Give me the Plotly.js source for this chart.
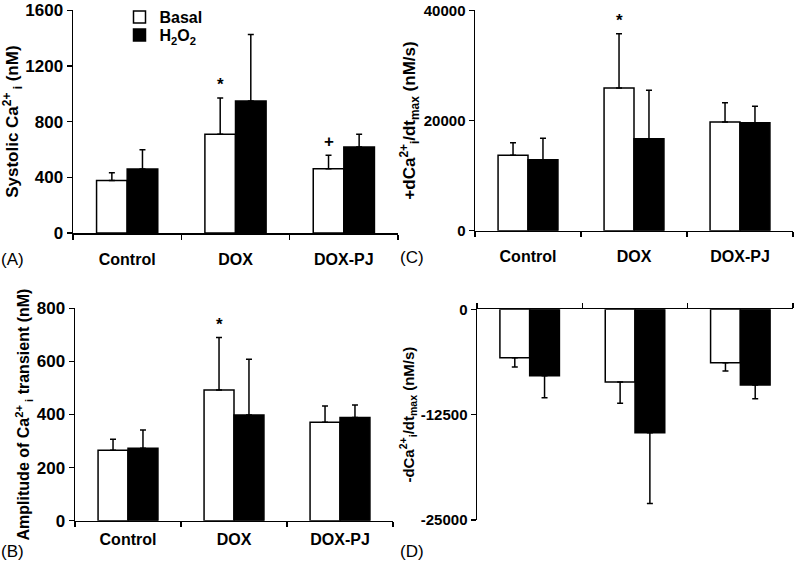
<!DOCTYPE html>
<html>
<head>
<meta charset="utf-8">
<script src="https://cdn.plot.ly/plotly-3.0.1.min.js"></script>
<style>
  html, body { margin: 0; padding: 0; background: #fff; }
  #chart { width: 800px; height: 564px; }
</style>
</head>
<body>
<div id="chart"></div>
<script>
// ---------- data ----------
const groups = ['Control', 'DOX', 'DOX-PJ'];

// (A) Systolic Ca2+ (nM)
const sysBasal = [378, 709, 462];
const sysBasalErr = [55, 261, 96];
const sysH2O2 = [460, 948, 618];
const sysH2O2Err = [139, 479, 91];
const sysMarks = ['', '*', '+'];

// (B) Amplitude of Ca2+ transient (nM)
const ampBasal = [265, 492, 371];
const ampBasalErr = [42, 198, 61];
const ampH2O2 = [273, 398, 389];
const ampH2O2Err = [69, 210, 47];
const ampMarks = ['', '*', ''];

// (C) +dCa/dt max (nM/s)
const upBasal = [13680, 25900, 19730];
const upBasalErr = [2300, 9860, 3510];
const upH2O2 = [12890, 16700, 19610];
const upH2O2Err = [3870, 8770, 2970];
const upMarks = ['', '*', ''];

// (D) -dCa/dt max (nM/s)
const downBasal = [-5740, -8620, -6330];
const downBasalErr = [1110, 2530, 990];
const downH2O2 = [-7870, -14640, -8980];
const downH2O2Err = [2610, 8390, 1620];

const dTickVals = [0, -12500, -25000];
const dTickText = ['0', '-12500', '-25000'];

// ---------- style ----------
const FONT = 'Liberation Sans, Arial, Helvetica, sans-serif';
const BARGAP = 0.435;
const lineStyle = { color: '#000', width: 1.5 };

function errUp(arr) {
  return { type: 'data', symmetric: false, array: arr, arrayminus: arr.map(() => 0),
           color: '#000', thickness: 1.5, width: 3 };
}
function errDown(arr) {
  return { type: 'data', symmetric: false, array: arr.map(() => 0), arrayminus: arr,
           color: '#000', thickness: 1.5, width: 3 };
}
function barTrace(y, err, fill, name, xa, ya, legendName, down) {
  const t = {
    type: 'bar', x: groups, y: y, name: name,
    xaxis: xa, yaxis: ya, showlegend: !!legendName,
    marker: { color: fill, line: lineStyle },
    error_y: down ? errDown(err) : errUp(err),
    hoverinfo: 'skip'
  };
  if (legendName) t.legend = legendName;
  return t;
}

const traces = [
  barTrace(sysBasal, sysBasalErr, '#fff', 'Basal', 'x', 'y', 'legend'),
  barTrace(sysH2O2, sysH2O2Err, '#000', 'H<sub>2</sub>O<sub>2</sub>', 'x', 'y', 'legend2'),
  barTrace(upBasal, upBasalErr, '#fff', 'Basal', 'x2', 'y2'),
  barTrace(upH2O2, upH2O2Err, '#000', 'H2O2', 'x2', 'y2'),
  barTrace(ampBasal, ampBasalErr, '#fff', 'Basal', 'x3', 'y3'),
  barTrace(ampH2O2, ampH2O2Err, '#000', 'H2O2', 'x3', 'y3'),
  barTrace(downBasal, downBasalErr, '#fff', 'Basal', 'x4', 'y4', null, true),
  barTrace(downH2O2, downH2O2Err, '#000', 'H2O2', 'x4', 'y4', null, true)
];

function xAxis(domain, anchor, opts) {
  return Object.assign({
    domain: domain, anchor: anchor, type: 'category', range: [-0.5, 2.5],
    tickson: 'boundaries', ticks: 'outside', ticklen: 5, tickwidth: 1.5, tickcolor: '#000',
    showline: true, linecolor: '#000', linewidth: 1.5, showgrid: false, zeroline: false,
    tickfont: { family: FONT, size: 16, color: '#000', weight: 'bold' },
    ticklabelstandoff: 11, fixedrange: true
  }, opts || {});
}
function yAxis(domain, anchor, range, dtick, title, tickSize, titleSize, opts) {
  return Object.assign({
    domain: domain, anchor: anchor, range: range, dtick: dtick, tickformat: 'd',
    ticks: 'outside', ticklen: 5, tickwidth: 1.5, tickcolor: '#000',
    showline: true, linecolor: '#000', linewidth: 1.5, showgrid: false, zeroline: false,
    tickfont: { family: FONT, size: tickSize, color: '#000', weight: 'bold' },
    title: { text: title, font: { family: FONT, size: titleSize, color: '#000', weight: 'bold' } },
    fixedrange: true
  }, opts || {});
}

// significance markers placed above the basal error bar tops
const halfBar = (1 - BARGAP) / 4;
function marks(list, vals, errs, xa, ya) {
  const out = [];
  list.forEach((t, i) => {
    if (!t) return;
    out.push({
      xref: xa, yref: ya, x: i - halfBar, y: vals[i] + errs[i],
      text: t, showarrow: false, yanchor: 'bottom', yshift: 2,
      font: { family: FONT, size: 17, color: '#000', weight: 'bold' }
    });
  });
  return out;
}
const panelLabel = (t, x, y) => ({
  xref: 'paper', yref: 'paper', x: x, y: y, text: t, showarrow: false,
  xanchor: 'center', yanchor: 'middle',
  font: { family: FONT, size: 17, color: '#000' }
});

const annotations = [].concat(
  marks(sysMarks, sysBasal, sysBasalErr, 'x', 'y'),
  marks(ampMarks, ampBasal, ampBasalErr, 'x3', 'y3'),
  marks(upMarks, upBasal, upBasalErr, 'x2', 'y2'),
  [
    panelLabel('(A)', 12 / 800, 1 - 259 / 564),
    panelLabel('(C)', 412 / 800, 1 - 258 / 564),
    panelLabel('(B)', 12 / 800, 1 - 551 / 564),
    panelLabel('(D)', 412 / 800, 1 - 551 / 564)
  ]
);

const legendFont = { family: FONT, size: 16, color: '#000', weight: 'bold' };
const layout = {
  width: 800, height: 564,
  margin: { l: 0, r: 0, t: 0, b: 0 },
  paper_bgcolor: '#fff', plot_bgcolor: 'rgba(0,0,0,0)',
  font: { family: FONT, color: '#000' },
  barmode: 'group', bargap: BARGAP, bargroupgap: 0,
  showlegend: true,
  legend: {
    x: 119.5 / 800, y: 1, xanchor: 'left', yanchor: 'top',
    bgcolor: 'rgba(0,0,0,0)', borderwidth: 0, itemwidth: 30, font: legendFont
  },
  legend2: {
    x: 119.5 / 800, y: 1 - 18 / 564, xanchor: 'left', yanchor: 'top',
    bgcolor: 'rgba(0,0,0,0)', borderwidth: 0, itemwidth: 30, font: legendFont
  },
  xaxis: xAxis([73 / 800, 398 / 800], 'y'),
  yaxis: yAxis([1 - 233 / 564, 1 - 10.3 / 564], 'x', [0, 1600], 400,
    'Systolic Ca<sup>2+</sup><sub> i</sub> (nM)', 17, 17),
  xaxis2: xAxis([475 / 800, 793 / 800], 'y2'),
  yaxis2: yAxis([1 - 230.7 / 564, 1 - 10.3 / 564], 'x2', [0, 40000], 20000,
    '+dCa<sup>2+</sup><sub>i</sub>/dt<sub>max</sub> (nM/s)', 15, 17),
  xaxis3: xAxis([75 / 800, 393 / 800], 'y3', { ticklabelstandoff: 4 }),
  yaxis3: yAxis([1 - 520.7 / 564, 1 - 308.3 / 564], 'x3', [0, 800], 200,
    'Amplitude of Ca<sup>2+</sup><sub> i</sub> transient (nM)', 17, 16),
  xaxis4: xAxis([477 / 800, 793 / 800], 'y4', { side: 'top', showticklabels: false }),
  yaxis4: yAxis([1 - 520 / 564, 1 - 309.3 / 564], 'x4', [-25000, 0], null,
    '-dCa<sup>2+</sup><sub>i</sub>/dt<sub>max</sub> (nM/s)', 15, 15,
    { tickmode: 'array', tickvals: dTickVals, ticktext: dTickText }),
  annotations: annotations
};

Plotly.newPlot('chart', traces, layout, { displayModeBar: false, staticPlot: true });
</script>
</body>
</html>
